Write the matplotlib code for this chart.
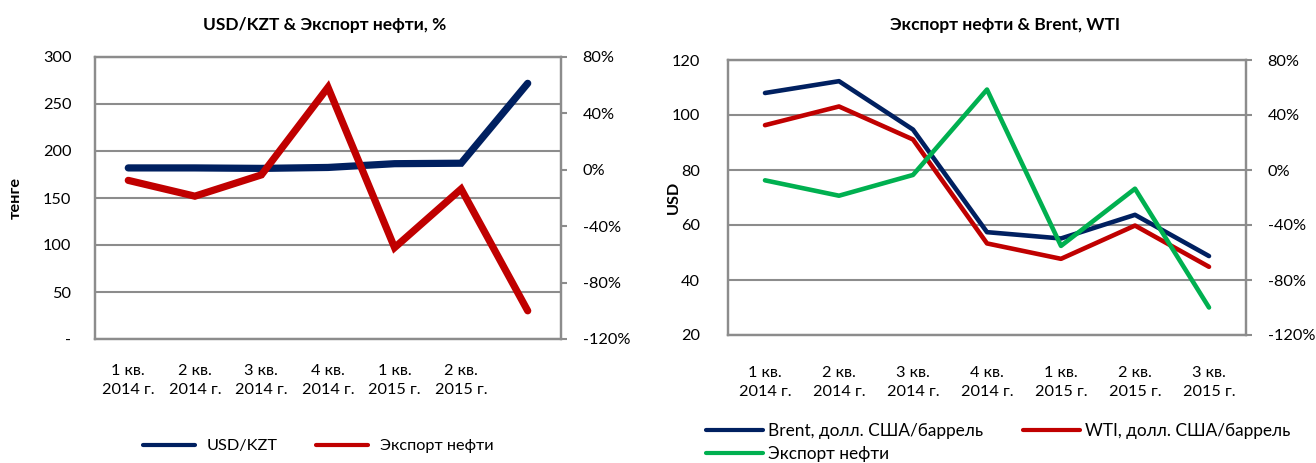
import matplotlib
matplotlib.use("Agg")
import matplotlib.pyplot as plt
from matplotlib.ticker import FuncFormatter

plt.rcParams['font.family'] = ['Lato', 'DejaVu Sans']

# ---------------- data ----------------
quarters_left = ["1 кв.\n2014 г.", "2 кв.\n2014 г.", "3 кв.\n2014 г.", "4 кв.\n2014 г.",
                 "1 кв.\n2015 г.", "2 кв.\n2015 г.", ""]
quarters_right = ["1 кв.\n2014 г.", "2 кв.\n2014 г.", "3 кв.\n2014 г.", "4 кв.\n2014 г.",
                  "1 кв.\n2015 г.", "2 кв.\n2015 г.", "3 кв.\n2015 г."]
usd_kzt = [182, 182, 181.5, 182.5, 186.5, 187, 272]
oil_export_pct = [-7.5, -18.7, -3.6, 58.5, -55.2, -13.6, -100]
brent = [108, 112.3, 94.7, 57.4, 55.1, 63.7, 48.7]
wti = [96.3, 103.1, 91.1, 53.3, 47.7, 59.8, 44.8]

left_ticks = [0, 50, 100, 150, 200, 250, 300]
left_tick_labels = ["-", "50", "100", "150", "200", "250", "300"]
pct_ticks = [-120, -80, -40, 0, 40, 80]
usd_ticks = [20, 40, 60, 80, 100, 120]

NAVY = "#002060"
RED = "#C00000"
GREEN = "#00B050"
GRAY = "#8c8c8c"
TXT = "#000000"
FS = 11.7

W, H = 1316, 463
fig = plt.figure(figsize=(W / 100, H / 100), dpi=100)


def frac_box(l, t, r, b):
    return [l / W, 1 - b / H, (r - l) / W, (b - t) / H]


def style_axes(ax, ax2, ylab_pad, ylab_pad2, xpad):
    for a in (ax, ax2):
        for s in a.spines.values():
            s.set_color(GRAY)
            s.set_linewidth(1.6)
    ax.tick_params(axis='y', length=0, pad=ylab_pad, labelsize=FS, colors=TXT)
    ax.tick_params(axis='x', length=0, pad=xpad, labelsize=FS, colors=TXT)
    ax2.tick_params(axis='y', length=4.5, width=1.5, color=GRAY, pad=ylab_pad2,
                    labelsize=FS, labelcolor=TXT)
    ax.grid(axis='y', color=GRAY, linewidth=1.5)
    ax.grid(axis='x', visible=False)
    ax.set_axisbelow(True)
    for lbl in ax.get_xticklabels():
        lbl.set_linespacing(1.5)


pct_fmt = FuncFormatter(lambda v, p: f"{v:.0f}%")

# ---------------- left chart ----------------
axL = fig.add_axes(frac_box(95, 57, 561, 339))
x = range(len(quarters_left))
axL.plot(x, usd_kzt, color=NAVY, lw=5.2, solid_capstyle='round', solid_joinstyle='miter',
         label="USD/KZT")
axL.set_ylim(0, 300)
axL.set_yticks(left_ticks)
axL.set_yticklabels(left_tick_labels)
axL.set_xlim(-0.5, len(quarters_left) - 0.5)
axL.set_xticks(list(x))
axL.set_xticklabels(quarters_left)
axL.set_ylabel("тенге", fontsize=FS, fontweight='bold')
axL.yaxis.set_label_coords((23 - 95) / (561 - 95), 0.5)
axL2 = axL.twinx()
axL2.plot(x, oil_export_pct, color=RED, lw=5.2, solid_capstyle='round', solid_joinstyle='miter',
          label="Экспорт нефти")
axL2.set_ylim(-120, 80)
axL2.set_yticks(pct_ticks)
axL2.yaxis.set_major_formatter(pct_fmt)
style_axes(axL, axL2, 17, 11, 18)
fig.text(325 / W, 1 - 25 / H, "USD/KZT & Экспорт нефти, %", ha='center', va='center',
         fontsize=12.5, fontweight='bold')

hL = [axL.get_lines()[0], axL2.get_lines()[0]]
fig.legend(hL, [h.get_label() for h in hL], loc='center', ncol=2,
           bbox_to_anchor=(318 / W, 1 - 446 / H), frameon=False, fontsize=FS,
           handlelength=3.2, handletextpad=0.7, columnspacing=2.4,
           borderpad=0, borderaxespad=0)
for lh in fig.legends[-1].get_lines():
    lh.set_linewidth(3)

# ---------------- right chart ----------------
axR = fig.add_axes(frac_box(728, 60, 1246, 335))
xr = range(len(quarters_right))
axR.plot(xr, brent, color=NAVY, lw=3.3, solid_capstyle='round', label="Brent, долл. США/баррель")
axR.plot(xr, wti, color=RED, lw=3.3, solid_capstyle='round', label="WTI, долл. США/баррель")
axR.set_ylim(20, 120)
axR.set_yticks(usd_ticks)
axR.set_xlim(-0.5, len(quarters_right) - 0.5)
axR.set_xticks(list(xr))
axR.set_xticklabels(quarters_right)
axR.set_ylabel("USD", fontsize=FS, fontweight='bold')
axR.yaxis.set_label_coords((681 - 728) / (1246 - 728), 0.5)
axR2 = axR.twinx()
axR2.plot(xr, oil_export_pct, color=GREEN, lw=3.3, solid_capstyle='round', label="Экспорт нефти")
axR2.set_ylim(-120, 80)
axR2.set_yticks(pct_ticks)
axR2.yaxis.set_major_formatter(pct_fmt)
style_axes(axR, axR2, 20, 11, 22)
fig.text(1005 / W, 1 - 25 / H, "Экспорт нефти & Brent, WTI", ha='center', va='center',
         fontsize=12.5, fontweight='bold')

hR = [axR.get_lines()[0], axR.get_lines()[1], axR2.get_lines()[0]]
legR = fig.legend([hR[0], hR[2], hR[1]], [hR[0].get_label(), hR[2].get_label(), hR[1].get_label()],
                  loc='upper left', ncol=2, bbox_to_anchor=(706 / W, 1 - 423 / H),
                  frameon=False, fontsize=12.4, handlelength=3.3, handletextpad=0.3,
                  columnspacing=2.3, borderpad=0, borderaxespad=0, labelspacing=0.42)
for lh in legR.get_lines():
    lh.set_linewidth(3)

fig.savefig("out.png", dpi=100)
